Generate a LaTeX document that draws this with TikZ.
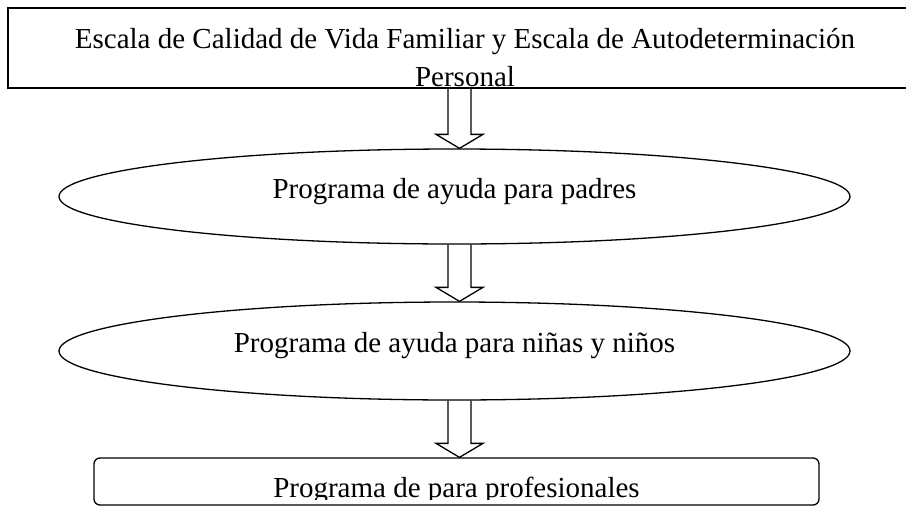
\documentclass[tikz,border=0pt]{standalone}
\usepackage{fontspec}
\setmainfont{Liberation Serif}
\usetikzlibrary{shapes.geometric,calc}

\newcommand{\flechagrande}[2]{%
  \draw[line join=miter] let \p1=(#1), \p2=(#2) in
    (\x1-11.5pt,\y1) -- (\x1-11.5pt,\y2+14pt) -- (\x1-23.5pt,\y2+14pt)
    -- (\x1,\y2) -- (\x1+23.5pt,\y2+14pt) -- (\x1+11.5pt,\y2+14pt)
    -- (\x1+11.5pt,\y1);}

\begin{document}
\begin{tikzpicture}[x=1pt, y=-1pt, line width=1.3pt,
    font={\fontsize{29}{38}\selectfont},
    caja/.style={draw, rectangle, inner sep=0pt},
    elipse/.style={draw, ellipse, inner sep=0pt, minimum width=791pt,
      text height=20pt, text depth=17pt}]
    \useasboundingbox (0,0) rectangle (906,507);
    \clip (0,0) rectangle (906,507);
    \node[caja, align=center, minimum width=914pt, minimum height=80pt,
      text height=78pt, text depth=2pt] (escala) at (465,48)
      {Escala de Calidad de Vida Familiar y Escala de Autodeterminación\\Personal};
    \node[elipse, minimum height=95pt] (padres) at (454.5,196.5) {Programa de ayuda para padres};
    \node[elipse, minimum height=98pt] (ninos) at (454.5,351) {Programa de ayuda para niñas y niños};
    \node[caja, rounded corners=6pt, minimum width=725pt, minimum height=47pt] (prof) at (456.5,481.5) {};
    \begin{scope}
        \clip (prof.north west) rectangle ($(prof.south east)+(0,-6)$);
        \node[inner sep=0pt, text height=31pt, text depth=0pt] (proftexto) at (prof.center) {Programa de para profesionales};
    \end{scope}
    \coordinate (ejex) at (459.5,0);
    \flechagrande{escala.south -| ejex}{padres.north -| ejex}
    \flechagrande{padres.south -| ejex}{ninos.north -| ejex}
    \flechagrande{ninos.south -| ejex}{prof.north -| ejex}
\end{tikzpicture}
\end{document}
